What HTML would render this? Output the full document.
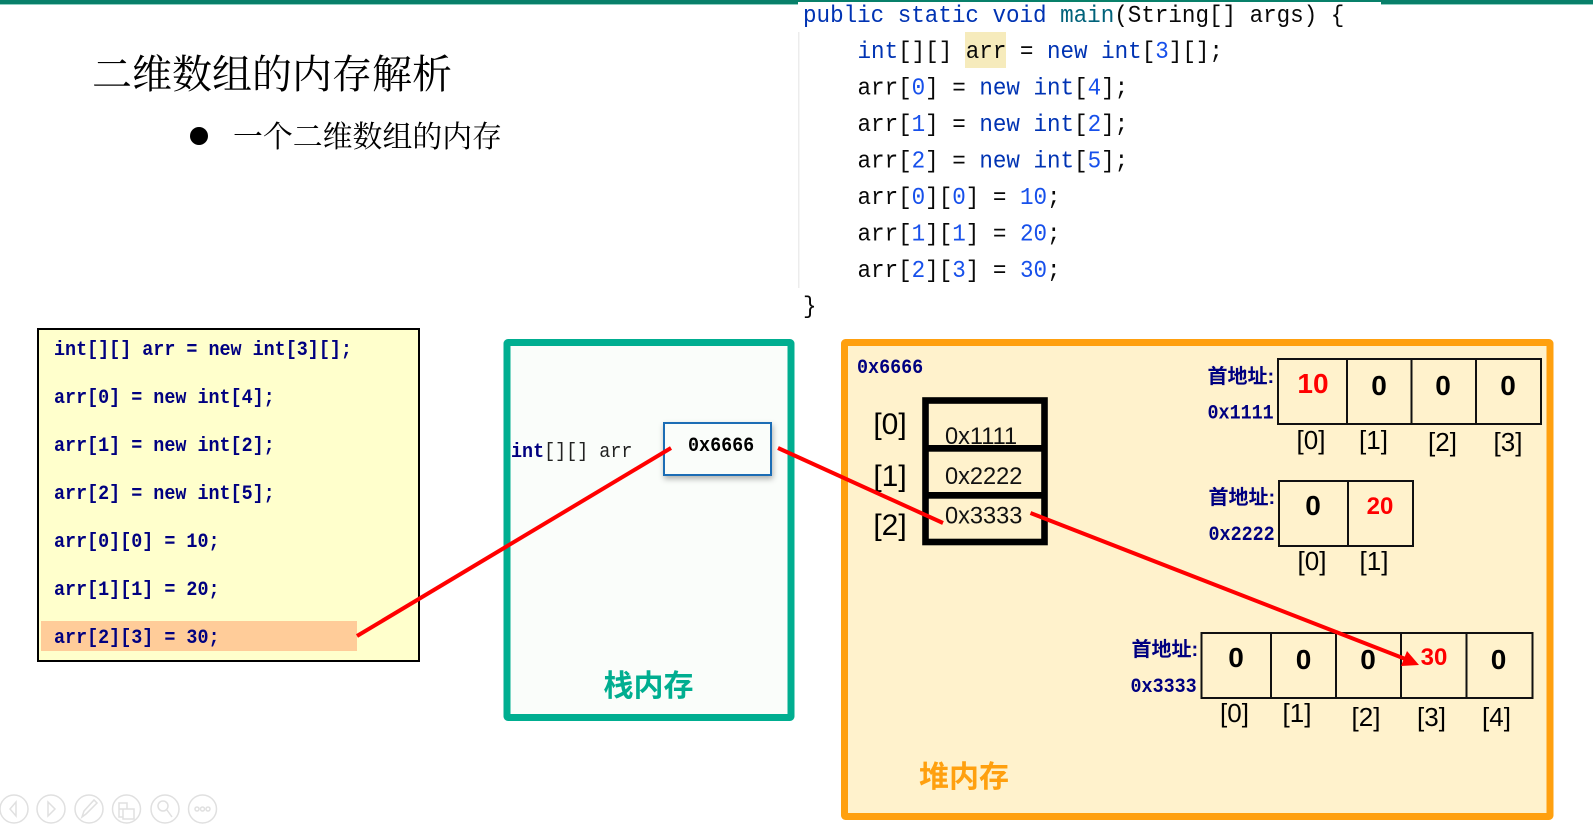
<!DOCTYPE html>
<html><head><meta charset="utf-8"><style>
html,body{margin:0;padding:0;background:#fff;width:1593px;height:828px;overflow:hidden}
svg{display:block}
text{white-space:pre}
.t{font-family:"Noto Serif CJK SC","Liberation Serif",serif;fill:#000}
.c{font-family:"Liberation Mono","DejaVu Sans Mono",monospace;font-size:24px;fill:#080808}
.k{fill:#0033b3}.n{fill:#1750eb}.m{fill:#00627a}
.y{font-family:"Liberation Mono",monospace;font-size:20px;font-weight:bold;fill:#000080}
.a{font-family:"Liberation Sans",sans-serif;font-size:23.6px;fill:#111}
.i{font-family:"Liberation Sans",sans-serif;fill:#000;text-anchor:middle}
.v{font-family:"Liberation Sans",sans-serif;font-weight:bold;font-size:28px;fill:#000;text-anchor:middle}
.r{fill:#f00}
.h{font-family:"Liberation Sans","Noto Sans CJK SC",sans-serif;font-weight:bold;font-size:20px;fill:#000080}
.b{font-family:"Noto Sans CJK SC","Liberation Sans",sans-serif;font-weight:bold;font-size:30px}
.cell{fill:none;stroke:#111;stroke-width:2}
.ic{fill:none;stroke:#e0e0e0;stroke-width:1.5}
</style></head><body>
<svg width="1593" height="828" viewBox="0 0 1593 828" xmlns="http://www.w3.org/2000/svg">
<defs>
<filter id="s" x="-20%" y="-20%" width="140%" height="150%"><feDropShadow dx="1" dy="3" stdDeviation="3" flood-color="#000" flood-opacity=".3"/></filter>
</defs>
<rect width="1593" height="4" fill="#08806a"/><rect y="4" width="1593" height="1" fill="#8fcfc2"/>
<rect x="798" y="2" width="583" height="4" fill="#fff"/>
<rect x="798" y="6" width="583" height="300" fill="#fff"/>
<rect x="798" y="32" width="1.5" height="256" fill="#ececec"/>

<text class="t" x="92" y="88" font-size="40" textLength="360" lengthAdjust="spacingAndGlyphs">二维数组的内存解析</text>
<circle cx="199" cy="136" r="9" fill="#000"/>
<text class="t" x="233" y="147" font-size="30" textLength="269" lengthAdjust="spacingAndGlyphs">一个二维数组的内存</text>

<rect x="965" y="32" width="41" height="36" fill="#f6ebbc"/>
<g transform="translate(803 0) scale(.94 1)">
<text class="c" x="0" y="22"><tspan class="k">public static void </tspan><tspan class="m">main</tspan>(String[] args) {</text>
<text class="c" x="0" y="313">}</text>
</g>
<g transform="translate(857.5 0) scale(.94 1)">
<text class="c" x="0" y="58"><tspan class="k">int</tspan>[][] arr = <tspan class="k">new int</tspan>[<tspan class="n">3</tspan>][];</text>
<text class="c" x="0" y="94.5">arr[<tspan class="n">0</tspan>] = <tspan class="k">new int</tspan>[<tspan class="n">4</tspan>];</text>
<text class="c" x="0" y="131">arr[<tspan class="n">1</tspan>] = <tspan class="k">new int</tspan>[<tspan class="n">2</tspan>];</text>
<text class="c" x="0" y="167.5">arr[<tspan class="n">2</tspan>] = <tspan class="k">new int</tspan>[<tspan class="n">5</tspan>];</text>
<text class="c" x="0" y="204">arr[<tspan class="n">0</tspan>][<tspan class="n">0</tspan>] = <tspan class="n">10</tspan>;</text>
<text class="c" x="0" y="240.5">arr[<tspan class="n">1</tspan>][<tspan class="n">1</tspan>] = <tspan class="n">20</tspan>;</text>
<text class="c" x="0" y="277">arr[<tspan class="n">2</tspan>][<tspan class="n">3</tspan>] = <tspan class="n">30</tspan>;</text>
</g>

<rect x="38" y="329" width="381" height="332" fill="#ffffcc" stroke="#000" stroke-width="2"/>
<rect x="41" y="621" width="316" height="30" fill="#ffcc99"/>
<g transform="translate(54 0) scale(.92 1)">
<text class="y" x="0" y="355">int[][] arr = new int[3][];</text>
<text class="y" x="0" y="403">arr[0] = new int[4];</text>
<text class="y" x="0" y="451">arr[1] = new int[2];</text>
<text class="y" x="0" y="499">arr[2] = new int[5];</text>
<text class="y" x="0" y="547">arr[0][0] = 10;</text>
<text class="y" x="0" y="595">arr[1][1] = 20;</text>
<text class="y" x="0" y="643">arr[2][3] = 30;</text>
</g>

<rect x="507" y="342.5" width="284" height="375" rx="1" fill="#fafdfa" stroke="#00ae90" stroke-width="7"/>
<text transform="translate(511 457) scale(.92 1)" font-family="Liberation Mono,monospace" font-size="20" fill="#222"><tspan fill="#000080" font-weight="bold">int</tspan>[][] arr</text>
<rect x="664" y="423" width="107" height="52" fill="#fafdfa" stroke="#1f6db5" stroke-width="2" filter="url(#s)"/>
<text transform="translate(688 451) scale(.92 1)" font-family="Liberation Mono,monospace" font-size="20" font-weight="bold" fill="#000">0x6666</text>
<text class="b" x="648.5" y="696" text-anchor="middle" fill="#00ae90">栈内存</text>

<rect x="844.5" y="342.5" width="705.5" height="474" rx="1" fill="#fff2cc" stroke="#ffa00f" stroke-width="7"/>
<text class="y" transform="translate(857 373) scale(.92 1)">0x6666</text>

<rect x="925.5" y="400.5" width="119" height="141.5" fill="none" stroke="#000" stroke-width="6.6"/>
<rect x="923" y="445" width="124" height="6.7" fill="#000"/><rect x="923" y="492" width="124" height="6.7" fill="#000"/>
<text class="a" x="945" y="443.8">0x1111</text>
<text class="a" x="945" y="484">0x2222</text>
<text class="a" x="945" y="523.4">0x3333</text>
<text class="i" x="890" y="434" font-size="30">[0]</text>
<text class="i" x="890" y="486" font-size="30">[1]</text>
<text class="i" x="890" y="535" font-size="30">[2]</text>

<g class="cell">
<rect x="1278" y="359" width="263" height="65"/><path d="M1347 359V424M1411.5 359V424M1476 359V424"/>
<rect x="1279" y="481" width="134" height="65"/><path d="M1348 481V546"/>
<rect x="1201.5" y="633" width="331" height="65"/><path d="M1271 633V698M1336 633V698M1401 633V698M1466.5 633V698"/>
</g>
<text class="v r" x="1313" y="393" style="font-size:28px">10</text>
<text class="v" x="1379" y="395">0</text><text class="v" x="1443" y="395">0</text><text class="v" x="1508" y="395">0</text>
<text class="v" x="1313" y="515">0</text>
<text class="v r" x="1380" y="514" style="font-size:24px">20</text>
<text class="v" x="1236" y="667">0</text><text class="v" x="1303.5" y="669">0</text><text class="v" x="1368" y="669">0</text>
<text class="v r" x="1434" y="665" style="font-size:24px">30</text>
<text class="v" x="1498.5" y="669">0</text>

<text class="h" x="1207.5" y="383">首地址:</text><text class="y" transform="translate(1207.5 418.5) scale(.92 1)">0x1111</text>
<text class="h" x="1208.5" y="504">首地址:</text><text class="y" transform="translate(1208.5 540) scale(.92 1)">0x2222</text>
<text class="h" x="1131.5" y="656">首地址:</text><text class="y" transform="translate(1130.5 692) scale(.92 1)">0x3333</text>

<g font-size="26">
<text class="i" x="1311" y="449">[0]</text><text class="i" x="1373.5" y="449">[1]</text><text class="i" x="1442.5" y="451">[2]</text><text class="i" x="1508" y="451">[3]</text>
<text class="i" x="1312" y="570">[0]</text><text class="i" x="1374" y="570">[1]</text>
<text class="i" x="1234.5" y="722">[0]</text><text class="i" x="1297" y="722">[1]</text><text class="i" x="1366" y="726">[2]</text><text class="i" x="1431.5" y="726">[3]</text><text class="i" x="1496.5" y="726">[4]</text>
</g>
<text class="b" x="964" y="787" text-anchor="middle" fill="#ffa00f">堆内存</text>

<g stroke="#f00" stroke-width="4" fill="none">
<path d="M357 636L671 448"/>
<path d="M778 448L943 523"/>
<path d="M1030.5 513L1408 660"/>
</g>
<path d="M1419 665L1401 666L1407 651Z" fill="#f00"/>

<g class="ic">
<circle cx="14" cy="809" r="14"/><circle cx="51" cy="809" r="14"/><circle cx="89" cy="809" r="14"/><circle cx="126.5" cy="809" r="14"/><circle cx="165" cy="809" r="14"/><circle cx="202.5" cy="809" r="14"/>
<path d="M16 802L10 809L16 816Z"/><path d="M48 802L55 809L48 816Z"/>
<path d="M82 817L84 811L94 800L97 803L86 814Z"/>
<path d="M119 803H127V809H119ZM123 809H134V819H123ZM119 809V817H123"/>
<circle cx="163" cy="806" r="5"/><path d="M167 810L172 817"/>
<circle cx="197" cy="809" r="2"/><circle cx="202.5" cy="809" r="2"/><circle cx="208" cy="809" r="2"/>
</g>
</svg>
</body></html>
